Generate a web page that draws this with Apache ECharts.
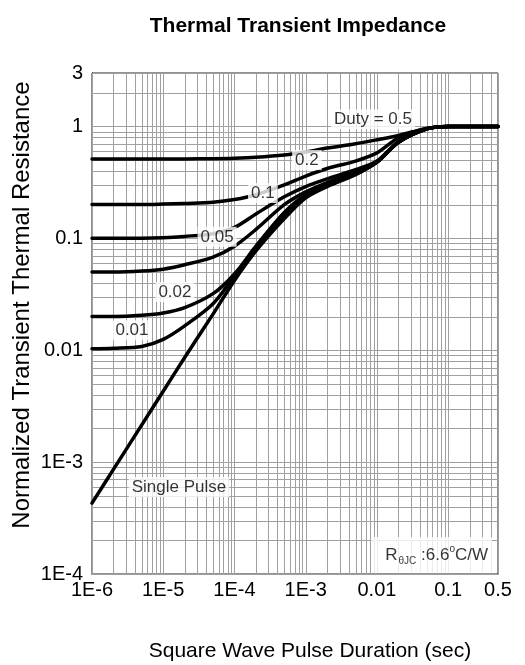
<!DOCTYPE html>
<html>
<head>
<meta charset="utf-8">
<script src="https://cdn.jsdelivr.net/npm/echarts@6/dist/echarts.min.js"></script>
<style>
  html, body { margin: 0; padding: 0; background: #fff; }
  #chart { width: 525px; height: 665px; }
</style>
</head>
<body>
<div id="chart"></div>
<script>
// Pulse duration (s) at which each curve is sampled
const pulseTime = [1e-6, 2e-6, 5e-6, 1e-5, 2e-5, 5e-5, 1e-4, 2e-4, 5e-4, 1e-3, 2e-3, 5e-3, 1e-2, 2e-2, 5e-2, 0.1, 0.2, 0.5];

// Normalized transient thermal resistance per duty cycle
const duty050 = [0.51, 0.51, 0.51, 0.51, 0.512, 0.515, 0.52, 0.53, 0.555, 0.59, 0.64, 0.70, 0.76, 0.83, 0.96, 1.0, 1.0, 1.0];
const duty020 = [0.20, 0.20, 0.20, 0.202, 0.205, 0.21, 0.222, 0.245, 0.30, 0.36, 0.42, 0.49, 0.58, 0.79, 0.96, 1.0, 1.0, 1.0];
const duty010 = [0.10, 0.10, 0.10, 0.101, 0.104, 0.11, 0.125, 0.165, 0.235, 0.29, 0.34, 0.41, 0.49, 0.73, 0.95, 1.0, 1.0, 1.0];
const duty005 = [0.050, 0.050, 0.051, 0.053, 0.058, 0.068, 0.085, 0.12, 0.20, 0.26, 0.315, 0.39, 0.48, 0.72, 0.95, 1.0, 1.0, 1.0];
const duty002 = [0.020, 0.020, 0.0205, 0.0215, 0.024, 0.032, 0.048, 0.085, 0.17, 0.245, 0.30, 0.38, 0.48, 0.72, 0.95, 1.0, 1.0, 1.0];
const duty001 = [0.0103, 0.0104, 0.0108, 0.0125, 0.0165, 0.026, 0.046, 0.08, 0.16, 0.24, 0.295, 0.375, 0.48, 0.72, 0.95, 1.0, 1.0, 1.0];
const singlePulse = [0.00043, 0.00086, 0.00215, 0.0043, 0.0086, 0.021, 0.042, 0.077, 0.15, 0.23, 0.29, 0.37, 0.48, 0.72, 0.95, 1.0, 1.0, 1.0];

// Axis tick labels
const xTickValues = [1e-6, 1e-5, 1e-4, 1e-3, 0.01, 0.1, 0.5];
const xTickLabels = ['1E-6', '1E-5', '1E-4', '1E-3', '0.01', '0.1', '0.5'];
const yTickValues = [1e-4, 1e-3, 0.01, 0.1, 1, 3];
const yTickLabels = ['1E-4', '1E-3', '0.01', '0.1', '1', '3'];

// Curve captions, anchored in data coordinates
const captions = [
  { text: 'Duty = 0.5', at: [8.8e-3, 1.16] },
  { text: '0.2', at: [1.04e-3, 0.50] },
  { text: '0.1', at: [2.5e-4, 0.254] },
  { text: '0.05', at: [5.7e-5, 0.103] },
  { text: '0.02', at: [1.46e-5, 0.0331] },
  { text: '0.01', at: [3.64e-6, 0.0151] },
  { text: 'Single Pulse', at: [1.66e-5, 5.98e-4] }
];
const rthNoteAt = [0.0585, 1.48e-4];

const FONT = '"Liberation Sans", Arial, sans-serif';
const X_MIN = 1e-6, X_MAX = 0.5, Y_MIN = 1e-4, Y_MAX = 3;

// Log grid: every 1..9 multiple inside each decade
function logGrid(lo, hi) {
  const out = [];
  for (let d = Math.floor(Math.log10(lo)); d <= Math.ceil(Math.log10(hi)); d++) {
    for (let k = 1; k <= 9; k++) {
      const v = Number((k * Math.pow(10, d)).toPrecision(3));
      if (v >= lo * 0.999 && v <= hi * 1.001) out.push(v);
    }
  }
  return out;
}
const xGrid = logGrid(X_MIN, X_MAX);
const yGrid = logGrid(Y_MIN, Y_MAX);

function tickFormatter(values, labels) {
  return function (v) {
    for (let i = 0; i < values.length; i++) {
      if (Math.abs(Math.log10(v) - Math.log10(values[i])) < 0.01) return labels[i];
    }
    return '';
  };
}

function pairs(ys) {
  return pulseTime.map((t, i) => [t, ys[i]]);
}

const curves = [duty050, duty020, duty010, duty005, duty002, duty001, singlePulse];

const GRID_COLOR = '#a0a0a0';

// Vertical grid line through x = value
function renderVertical(params, api) {
  const v = api.value(0);
  const top = api.coord([v, Y_MAX]);
  const bottom = api.coord([v, Y_MIN]);
  const x = Math.round(top[0]) + 0.5;
  return { type: 'line', silent: true,
    shape: { x1: x, y1: top[1], x2: x, y2: bottom[1] },
    style: { stroke: GRID_COLOR, lineWidth: 1 } };
}
// Horizontal grid line through y = value
function renderHorizontal(params, api) {
  const v = api.value(1);
  const left = api.coord([X_MIN, v]);
  const right = api.coord([X_MAX, v]);
  const y = Math.round(left[1]) + 0.5;
  return { type: 'line', silent: true,
    shape: { x1: left[0], y1: y, x2: right[0], y2: y },
    style: { stroke: GRID_COLOR, lineWidth: 1 } };
}

const chart = echarts.init(document.getElementById('chart'), null, { renderer: 'canvas' });

chart.setOption({
  animation: false,
  backgroundColor: '#fff',
  textStyle: { fontFamily: FONT },
  grid: {
    left: 92, right: 27, top: 73, bottom: 91,
    show: true, borderColor: '#222', borderWidth: 1, backgroundColor: 'transparent'
  },
  graphic: [
    {
      type: 'text', x: 298, y: 26,
      style: { text: 'Thermal Transient Impedance', font: 'bold 21px ' + FONT, fill: '#000', textAlign: 'center', textVerticalAlign: 'middle' }
    },
    {
      type: 'text', x: 310, y: 651,
      style: { text: 'Square Wave Pulse Duration (sec)', font: '21px ' + FONT, fill: '#000', textAlign: 'center', textVerticalAlign: 'middle' }
    },
    {
      type: 'text', x: 22, y: 305, rotation: Math.PI / 2,
      style: { text: 'Normalized Transient Thermal Resistance', font: '24px ' + FONT, fill: '#000', textAlign: 'center', textVerticalAlign: 'middle' }
    }
  ],
  xAxis: {
    type: 'log', logBase: 10, min: X_MIN, max: X_MAX,
    axisLine: { show: true, lineStyle: { color: '#000', width: 1 } },
    axisTick: { show: false },
    splitLine: { show: false },
    axisLabel: {
      showMinLabel: true, showMaxLabel: true, margin: 6,
      fontSize: 20, color: '#000', fontFamily: FONT,
      formatter: tickFormatter(xTickValues, xTickLabels)
    }
  },
  yAxis: {
    type: 'log', logBase: 10, min: Y_MIN, max: Y_MAX,
    axisLine: { show: true, lineStyle: { color: '#000', width: 1 } },
    axisTick: { show: false },
    splitLine: { show: false },
    axisLabel: {
      showMinLabel: true, showMaxLabel: true, margin: 9,
      fontSize: 20, color: '#000', fontFamily: FONT,
      formatter: tickFormatter(yTickValues, yTickLabels)
    }
  },
  series: [
    {
      name: 'gridX', type: 'custom', z: 1, silent: true,
      data: xGrid.map(v => [v, 1]),
      renderItem: renderVertical
    },
    {
      name: 'gridY', type: 'custom', z: 1, silent: true,
      data: yGrid.map(v => [1e-5, v]),
      renderItem: renderHorizontal
    }
  ].concat(curves.map((ys, i) => ({
    name: 'curve' + i,
    type: 'line', z: 3,
    data: pairs(ys),
    smooth: 0.3,
    showSymbol: false, silent: true,
    lineStyle: { color: '#000', width: 3.5, cap: 'round', join: 'round' }
  }))).concat([
    {
      name: 'captions',
      type: 'scatter', z: 5, silent: true,
      symbolSize: 0,
      data: captions.map(c => ({ value: c.at, name: c.text })),
      label: {
        show: true, position: 'inside',
        formatter: p => p.name,
        fontSize: 17, color: '#000', fontFamily: FONT,
        backgroundColor: '#fff', padding: [2, 3, 1, 3]
      }
    },
    {
      name: 'rth',
      type: 'scatter', z: 5, silent: true,
      symbolSize: 0,
      data: [{ value: rthNoteAt, name: 'rth' }],
      label: {
        show: true, position: 'inside',
        backgroundColor: '#fff', padding: [7, 4, 7, 14],
        formatter: '{m|R}{s|θJC}{m| :6.6}{u|o}{m|C/W}',
        rich: {
          m: { fontSize: 17, color: '#000', fontFamily: FONT, lineHeight: 22 },
          s: { fontSize: 10, color: '#000', fontFamily: FONT, lineHeight: 22, verticalAlign: 'bottom', padding: [8, 0, 0, 1] },
          u: { fontSize: 10, color: '#000', fontFamily: FONT, lineHeight: 22, verticalAlign: 'top', padding: [0, 0, 8, 0] }
        }
      }
    }
  ])
});
</script>
</body>
</html>
